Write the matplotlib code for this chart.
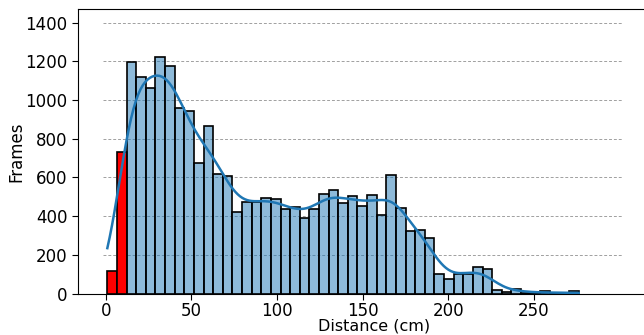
import numpy as np
import matplotlib
matplotlib.use("Agg")
import matplotlib.pyplot as plt

# Histogram data (49 bins, ~5.62 cm wide)
bin_start = 0.93
bin_end = 276.2
counts = [117, 733, 1198, 1120, 1063, 1220, 1175, 960, 943, 673,
          864, 616, 606, 422, 472, 472, 496, 489, 437, 448,
          392, 436, 516, 534, 467, 504, 455, 511, 406, 613,
          441, 322, 329, 286, 100, 77, 102, 102, 136, 127,
          21, 10, 26, 5, 3, 12, 2, 3, 12]
red_bins = 2
x_ticks = [0, 50, 100, 150, 200, 250]
y_ticks = [0, 200, 400, 600, 800, 1000, 1200, 1400]

counts = np.array(counts, dtype=float)
edges = np.linspace(bin_start, bin_end, len(counts) + 1)
centers = (edges[:-1] + edges[1:]) / 2
binw = edges[1] - edges[0]

fig = plt.figure(figsize=(6.44, 3.35), dpi=100)
xmin, xmax = -16.2, 330
ax_left = 78 / 644
ax_bottom = (335 - 293.7) / 335
ax_top = (335 - 9) / 335
ax_w = (xmax - xmin) * 1.7125 / 644
ax = fig.add_axes([ax_left, ax_bottom, ax_w, ax_top - ax_bottom])

# grid lines (dashed, limited extent)
ax.hlines(y_ticks[1:], -1.6, 301.5, colors="#a0a0a0", linestyles=(0, (3, 2)),
          linewidth=0.7, zorder=0)

colors = [(1, 0, 0, 1) if i < red_bins else (0.122, 0.467, 0.706, 0.5)
          for i in range(len(counts))]
ax.bar(edges[:-1], counts, width=binw, align="edge", color=colors,
       edgecolor="black", linewidth=1.2, zorder=2)

# Gaussian KDE of the binned data (Scott's rule), scaled to counts
N = counts.sum()
mean = (counts * centers).sum() / N
std = np.sqrt((counts * (centers - mean) ** 2).sum() / N)
h = std * N ** (-0.2)
grid = np.linspace(edges[0], edges[-1], 200)
z = (grid[:, None] - centers[None, :]) / h
dens = (counts[None, :] * np.exp(-0.5 * z ** 2)).sum(axis=1) / (h * np.sqrt(2 * np.pi))
ax.plot(grid, dens * binw, color="#1f77b4", linewidth=1.8, zorder=3)

ax.set_xlim(xmin, xmax)
ax.set_ylim(0, 1470)
ax.set_xticks(x_ticks)
ax.set_yticks(y_ticks)
ax.tick_params(labelsize=12, length=4)
ax.tick_params(axis="x", pad=2)
ax.set_xlabel("Distance (cm)", fontsize=11.5, labelpad=-1)
ax.set_ylabel("Frames", fontsize=12, labelpad=0)
ax.spines["right"].set_visible(False)

fig.savefig("out.png", dpi=100)
